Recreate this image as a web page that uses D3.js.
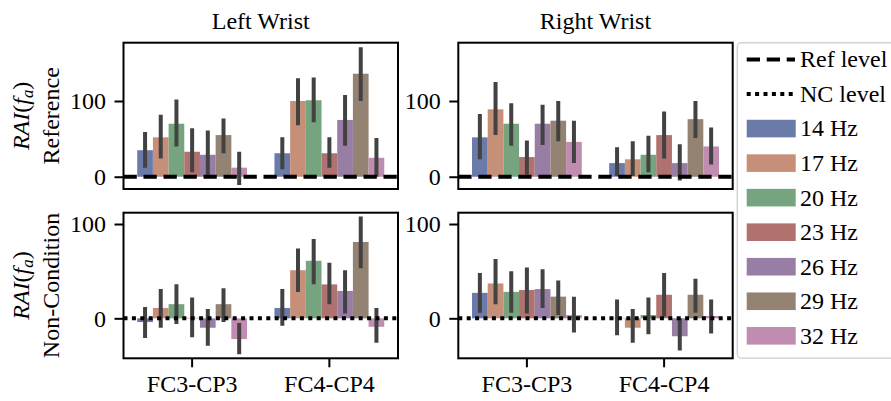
<!DOCTYPE html>
<html><head><meta charset="utf-8">
<script src="https://cdn.jsdelivr.net/npm/d3@7"></script>
<style>
html,body{margin:0;padding:0;background:#fff;}
svg{display:block;}
svg text{font-family:"Liberation Serif","Times New Roman",Times,serif !important;fill:#000;}
</style></head>
<body>
<svg id="chart" width="891" height="401" font-family="Liberation Serif"></svg>
<script>
// ---------- data ----------
const categories = ["FC3-CP3", "FC4-CP4"];
const freqs = ["14 Hz", "17 Hz", "20 Hz", "23 Hz", "26 Hz", "29 Hz", "32 Hz"];
const colors = ["#6a7aa9", "#c58f78", "#76a47e", "#b0726e", "#987da4", "#948273", "#c08cb0"];
const colTitles = ["Left Wrist", "Right Wrist"];
const rowLabels = ["Reference", "Non-Condition"];
const yTicks = [0, 100];

// values per category: [FC3-CP3 x7, FC4-CP4 x7]
const leftRefMean = [35, 52, 70, 33, 29, 55, 12,   31, 100, 101, 31, 75, 136, 25];
const leftRefLo   = [12, 24, 40, 6, 1, 31, -11,    10, 68, 72, 12, 41, 100, 0];
const leftRefHi   = [59, 82, 102, 64, 61, 77, 33,  52, 130, 131, 52, 108, 171, 51];

const rightRefMean = [52, 89, 70, 26, 70, 74, 46,  18, 23, 29, 55, 18, 76, 40];
const rightRefLo   = [23, 55, 41, 3, 42, 47, 18,   1, 1, 6, 24, -5, 51, 16];
const rightRefHi   = [83, 125, 97, 48, 95, 100, 74, 39, 47, 54, 86, 43, 100, 65];

const leftNCMean = [-4, 11, 15, 0.5, -10, 15, -22,  11, 51, 61, 36, 29, 81, -9];
const leftNCLo   = [-21, -10, -6, -20, -29, -4, -38,  -8, 28, 36, 15, 5, 53, -26];
const leftNCHi   = [12, 31, 36, 22, 10, 32, -5,    31, 74, 84, 59, 51, 108, 11];

const rightNCMean = [27, 37, 28, 30, 31, 23, 3.5,   0.4, -10, 3.5, 25, -19, 25, 2.5];
const rightNCLo   = [6, 15, 6, 5, 11, 3.5, -15,    -18, -26, -17, 2, -34, 6, -16];
const rightNCHi   = [48, 63, 50, 54, 52, 40, 23,   20, 10, 22, 48, 0, 42, 20];

const panelsData = [
  [[leftRefMean, leftRefLo, leftRefHi], [rightRefMean, rightRefLo, rightRefHi]],
  [[leftNCMean, leftNCLo, leftNCHi], [rightNCMean, rightNCLo, rightNCHi]]
];

// ---------- layout ----------
const FS = 24;
const FONT = "Liberation Serif";
const colX = [[123.5, 398], [458.3, 732.7]];
const rowY = [[42.7, 189], [212.7, 358.3]];
const yDomains = [[-16.2, 177], [-42.4, 112]];
const lineStyles = ["13.3,6.7", "4,4.4"];

const svg = d3.select("#chart");

function rai(g, x, y) {
  const t = g.append("text").attr("transform", `translate(${x},${y}) rotate(-90)`)
    .attr("text-anchor", "middle").attr("font-family", FONT).style("font-size", FS + "px");
  t.append("tspan").style("font-style", "italic").text("RAI");
  t.append("tspan").text("(");
  t.append("tspan").style("font-style", "italic").text("f");
  t.append("tspan").style("font-style", "italic").style("font-size", (FS * 0.7) + "px").attr("dy", 4).text("a");
  t.append("tspan").attr("dy", -4).text(")");
}

for (let r = 0; r < 2; r++) {
  for (let c = 0; c < 2; c++) {
    const [x0, x1] = colX[c];
    const [y0, y1] = rowY[r];
    const [mean, lo, hi] = panelsData[r][c];
    const g = svg.append("g");
    const x = d3.scaleBand().domain(categories).range([x0, x1]).paddingInner(0.2).paddingOuter(0.1);
    const xh = d3.scaleBand().domain(freqs).range([0, x.bandwidth()]);
    const y = d3.scaleLinear().domain(yDomains[r]).range([y1, y0]);

    const clipId = `clip${r}${c}`;
    svg.append("clipPath").attr("id", clipId).append("rect")
      .attr("x", x0).attr("y", y0).attr("width", x1 - x0).attr("height", y1 - y0);
    const plot = g.append("g").attr("clip-path", `url(#${clipId})`);

    const recs = [];
    categories.forEach((cat, ci) => freqs.forEach((f, fi) => {
      const k = ci * freqs.length + fi;
      recs.push({cat, f, fi, m: mean[k], lo: lo[k], hi: hi[k]});
    }));

    plot.selectAll("rect.bar").data(recs).join("rect").attr("class", "bar")
      .attr("x", d => x(d.cat) + xh(d.f))
      .attr("width", xh.bandwidth())
      .attr("y", d => y(Math.max(0, d.m)))
      .attr("height", d => Math.abs(y(d.m) - y(0)))
      .attr("fill", d => colors[d.fi]);

    plot.selectAll("line.err").data(recs).join("line").attr("class", "err")
      .attr("x1", d => x(d.cat) + xh(d.f) + xh.bandwidth() / 2)
      .attr("x2", d => x(d.cat) + xh(d.f) + xh.bandwidth() / 2)
      .attr("y1", d => y(d.lo)).attr("y2", d => y(d.hi))
      .attr("stroke", "#424242").attr("stroke-width", 4);

    plot.append("line").attr("x1", x0).attr("x2", x1)
      .attr("y1", y(0)).attr("y2", y(0))
      .attr("stroke", "#000").attr("stroke-width", 4)
      .attr("stroke-dasharray", lineStyles[r]);

    // y axis
    const ya = g.append("g").attr("transform", `translate(${x0},0)`)
      .call(d3.axisLeft(y).tickValues(yTicks).tickSize(9).tickPadding(8.5));
    ya.attr("font-family", FONT);
    ya.select(".domain").remove();
    ya.selectAll("line").attr("stroke-width", 2);
    ya.selectAll("text").style("font-size", FS + "px");

    // x axis
    const xa = g.append("g").attr("transform", `translate(0,${y1})`)
      .call(d3.axisBottom(x).tickSize(r === 1 ? 9 : 0));
    xa.attr("font-family", FONT);
    xa.select(".domain").remove();
    xa.selectAll("line").attr("stroke-width", 2);
    if (r === 1) {
      xa.selectAll("text").attr("y", 34.2).attr("dy", 0).style("font-size", FS + "px");
    } else {
      xa.selectAll("text").remove();
    }

    // frame
    g.append("rect").attr("x", x0).attr("y", y0).attr("width", x1 - x0).attr("height", y1 - y0)
      .attr("fill", "none").attr("stroke", "#000").attr("stroke-width", 2);

    if (r === 0) {
      g.append("text").attr("x", (x0 + x1) / 2).attr("y", 28.5)
        .attr("text-anchor", "middle").attr("font-family", FONT).style("font-size", FS + "px").text(colTitles[c]);
    }
    if (c === 0) {
      const cy = (y0 + y1) / 2;
      rai(g, 29, cy);
      g.append("text").attr("transform", `translate(59,${cy}) rotate(-90)`)
        .attr("text-anchor", "middle").attr("font-family", FONT).style("font-size", FS + "px").text(rowLabels[r]);
    }
  }
}

// ---------- legend ----------
const lg = svg.append("g").attr("font-family", FONT);
lg.append("rect").attr("x", 737.3).attr("y", 42.7).attr("width", 170).attr("height", 315.5)
  .attr("rx", 4).attr("fill", "#fff").attr("stroke", "#d4d4d4").attr("stroke-width", 1.5);
const legendItems = [
  {label: "Ref level", type: "line", dash: lineStyles[0]},
  {label: "NC level", type: "line", dash: lineStyles[1]},
  ...freqs.map((f, i) => ({label: f, type: "patch", color: colors[i]}))
];
const ly = d3.scaleLinear().domain([0, legendItems.length - 1]).range([59.5, 335.8]);
legendItems.forEach((d, i) => {
  const cy = ly(i);
  if (d.type === "line") {
    lg.append("line").attr("x1", 746.7).attr("x2", 795).attr("y1", cy).attr("y2", cy)
      .attr("stroke", "#000").attr("stroke-width", 4).attr("stroke-dasharray", d.dash);
  } else {
    lg.append("rect").attr("x", 746.7).attr("y", cy - 8.8).attr("width", 49).attr("height", 17.6)
      .attr("fill", d.color);
  }
  lg.append("text").attr("x", 800).attr("y", cy).attr("dy", "0.33em")
    .style("font-size", FS + "px").text(d.label);
});
</script>
</body></html>
